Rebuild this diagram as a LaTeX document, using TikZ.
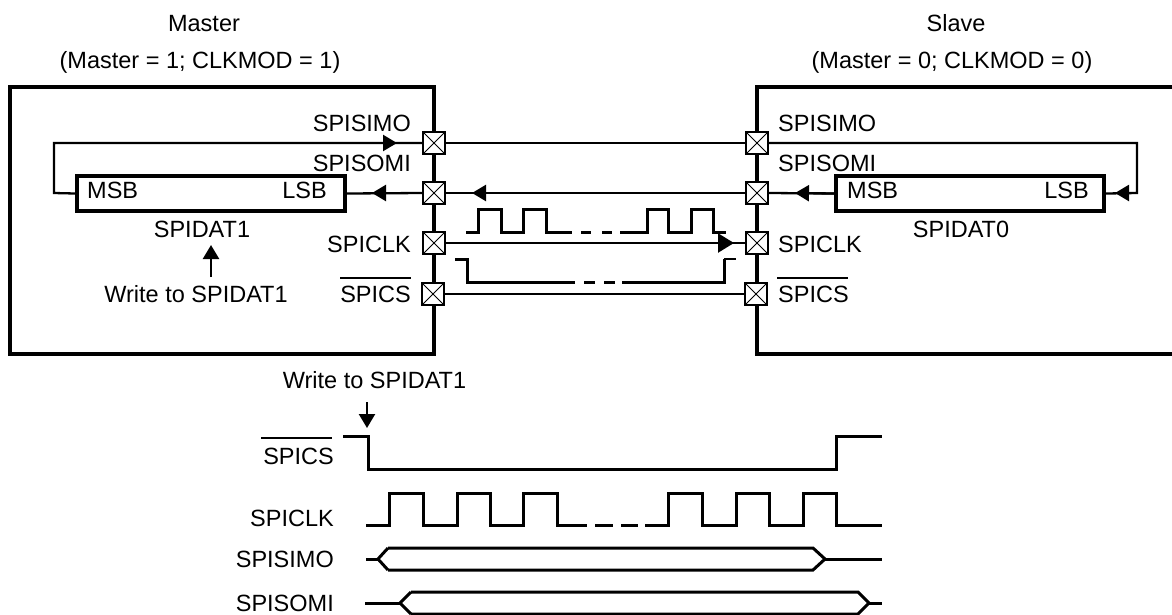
\documentclass[tikz,border=0pt]{standalone}
\usepackage{fontspec}
\setmainfont{Liberation Sans}
\usetikzlibrary{arrows.meta}
\tikzset{
  lab/.style={inner sep=0pt,font=\fontsize{23.5}{28}\selectfont},
  labR/.style={lab,anchor=base east},
  labL/.style={lab,anchor=base west},
  labC/.style={lab,anchor=base},
  portbox/.style={draw=black,fill=white,line width=2.4pt,minimum size=21.5pt,inner sep=0pt,
    path picture={\draw[line width=1pt] (path picture bounding box.north west)--(path picture bounding box.south east)
      (path picture bounding box.north east)--(path picture bounding box.south west);}},
  regbox/.style={draw=black,fill=none,line width=4.4pt,minimum width=268pt,minimum height=35pt,inner sep=0pt},
  chip/.style={line width=4.6pt},
  conn/.style={line width=2.3pt},
  wave/.style={line width=3pt},
  wavet/.style={line width=3pt,miter limit=2},
  ovl/.style={line width=2.6pt},
  tipS/.style={-{Triangle[length=14pt,width=16pt]}},
  tipB/.style={-{Triangle[length=16pt,width=19pt]}},
}
\begin{document}
\begin{tikzpicture}[x=1pt,y=-1pt]
\useasboundingbox (0,0) rectangle (1172,614);
\fill[white] (0,0) rectangle (1172,614);
% titles
\node[labC] (tm) at (204,31) {Master};
\node[labC] (tmc) at (200,68) {(Master = 1; CLKMOD = 1)};
\node[labC] (ts) at (956,31) {Slave};
\node[labC] (tsc) at (952,68) {(Master = 0; CLKMOD = 0)};
% chips
\draw[chip] (10,87) rectangle (434,354);
\draw[chip] (1172,87) -- (757,87) -- (757,354) -- (1172,354);
% registers
\node[regbox] (r1) at (211,193.5) {};
\node[regbox] (r0) at (970,193.5) {};
% coordinates
\coordinate (lt) at (54,143);
\coordinate (lb) at (54,193);
\coordinate (rt) at (1137,143);
\coordinate (rb) at (1137,193);
\coordinate (a1) at (397,143);
\coordinate (a2) at (372,193);
\coordinate (a3) at (472,193);
\coordinate (a4) at (734,243);
\coordinate (a5) at (795,193);
\coordinate (a6) at (1115,193);
\coordinate (w1s) at (211,277);
\coordinate (w1e) at (211,245);
\coordinate (w2s) at (367,402);
\coordinate (w2e) at (367,428);
% ports
\node[portbox] (m1) at (434,143) {};
\node[portbox] (m2) at (434,193) {};
\node[portbox] (m3) at (434,243) {};
\node[portbox] (m4) at (433,294) {};
\node[portbox] (s1) at (757,143) {};
\node[portbox] (s2) at (757,193) {};
\node[portbox] (s3) at (757,243) {};
\node[portbox] (s4) at (756,294) {};
% connectors
\draw[conn] (r1.west) -- (lb) -- (lt) -- (m1.west);
\draw[conn,tipS] (lt) -- (a1);
\draw[conn] (m2.west) -- (r1.east);
\draw[conn,tipS] (m2.west) -- (a2);
\draw[conn] (m1.east) -- (s1.west);
\draw[conn] (s2.west) -- (m2.east);
\draw[conn,tipS] (s2.west) -- (a3);
\draw[conn] (m3.east) -- (s3.west);
\draw[conn,tipB] (m3.east) -- (a4);
\draw[conn] (m4.east) -- (s4.west);
\draw[conn] (r0.west) -- (s2.east);
\draw[conn,tipS] (r0.west) -- (a5);
\draw[conn] (s1.east) -- (rt) -- (rb) -- (r0.east);
\draw[conn,tipS] (rb) -- (a6);
\draw[conn,tipS] (w1s) -- (w1e);
\draw[conn,tipS] (w2s) -- (w2e);
% register text
\node[labL] (t1) at (87,198) {MSB};
\node[labR] (t2) at (327,198) {LSB};
\node[labL] (t3) at (847,198) {MSB};
\node[labR] (t4) at (1089,198) {LSB};
\node[labC] (t5) at (202,237) {SPIDAT1};
\node[labC] (t6) at (961,237) {SPIDAT0};
\node[labC] (t7) at (196,302) {Write to SPIDAT1};
\node[labC] (t8) at (374.5,388) {Write to SPIDAT1};
% master labels
\node[labR] (ml1) at (411,131) {SPISIMO};
\node[labR] (ml2) at (411,171) {SPISOMI};
\node[labR] (ml3) at (411,252) {SPICLK};
\node[labR] (ml4) at (411,302) {SPICS};
\draw[ovl] (340,278) -- (411,278);
% slave labels
\node[labL] (sl1) at (778,131) {SPISIMO};
\node[labL] (sl2) at (778,171) {SPISOMI};
\node[labL] (sl3) at (778,252) {SPICLK};
\node[labL] (sl4) at (778,302) {SPICS};
\draw[ovl] (777,278) -- (848,278);
% upper clock wave
\draw[wave] (466,232) -- (478,232) -- (478,209) -- (501,209) -- (501,232) -- (523,232) -- (523,209) -- (546,209) -- (546,232) -- (572,232);
\draw[wave] (581,232) -- (591,232) (602,232) -- (612,232);
\draw[wave] (620,232) -- (647,232) -- (647,209) -- (668,209) -- (668,232) -- (691,232) -- (691,209) -- (713,209) -- (713,232) -- (726,232);
% upper cs wave
\draw[wave] (455,259) -- (467,259) -- (467,282) -- (575,282);
\draw[wave] (584,282) -- (595,282) (604,282) -- (615,282);
\draw[wave] (622,282) -- (724,282) -- (724,259);
\draw[conn] (724,259) -- (736,259);
% timing labels
\node[labR] (tl1) at (334,464) {SPICS};
\draw[ovl] (261,438) -- (332,438);
\node[labR] (tl2) at (334,526) {SPICLK};
\node[labR] (tl3) at (334,567) {SPISIMO};
\node[labR] (tl4) at (334,611) {SPISOMI};
% timing waves
\draw[wavet] (343,436) -- (368,436) -- (368,469) -- (836,469) -- (836,436) -- (882,436);
\draw[wavet] (366,525) -- (389,525) -- (389,493) -- (423,493) -- (423,525) -- (457,525) -- (457,493) -- (490,493) -- (490,525) -- (523,525) -- (523,493) -- (557,493) -- (557,525) -- (587,525);
\draw[wavet] (595,525) -- (613,525) (621,525) -- (638,525);
\draw[wavet] (645,525) -- (668,525) -- (668,493) -- (702,493) -- (702,525) -- (736,525) -- (736,493) -- (769,493) -- (769,525) -- (803,525) -- (803,493) -- (836,493) -- (836,525) -- (882,525);
\draw[wavet] (366,559) -- (378,559);
\draw[wavet] (388,548) -- (378,559) -- (388,570);
\draw[wavet] (388,548) -- (813,548) -- (825,559) -- (813,570) -- (388,570);
\draw[wavet] (825,559) -- (882,559);
\draw[wavet] (365,603) -- (400,603);
\draw[wavet] (411,592) -- (400,603) -- (411,614);
\draw[wavet] (411,592) -- (858,592) -- (869,603) -- (858,614) -- (411,614);
\draw[wavet] (869,603) -- (882,603);
\end{tikzpicture}
\end{document}
